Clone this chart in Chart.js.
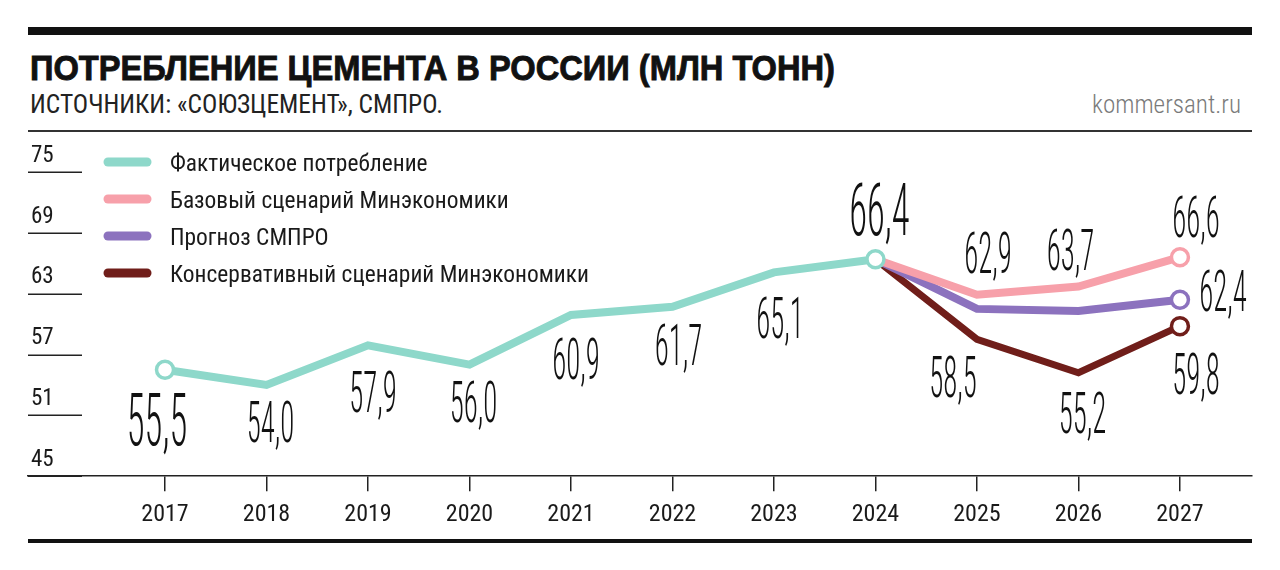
<!DOCTYPE html>
<html><head><meta charset="utf-8">
<script src="https://cdn.jsdelivr.net/npm/chart.js@4.4.1/dist/chart.umd.min.js"></script>
<style>
html,body{margin:0;padding:0;background:#fff;}
#wrap{position:relative;width:1280px;height:570px;overflow:hidden;background:#fff;}
#c{position:absolute;left:0;top:0;}
.rule{position:absolute;background:#111;}
.txt{position:absolute;white-space:nowrap;transform-origin:0 0;line-height:1;}
#title{left:30px;top:50px;font-family:"Liberation Sans",Arial,sans-serif;font-weight:bold;font-size:35px;color:#111;-webkit-text-stroke:0.9px #111;}
#sub{left:30px;top:92px;font-family:"Roboto Condensed","Liberation Sans",Arial,sans-serif;font-weight:400;font-size:25px;color:#222;}
#src{top:91px;font-family:"Roboto Condensed","Liberation Sans",Arial,sans-serif;font-weight:300;font-size:26px;color:#7a7a7a;}
</style></head>
<body><div id="wrap">
<div class="rule" style="left:28px;top:27px;width:1224px;height:8px"></div>
<div class="rule" style="left:28px;top:130px;width:1224px;height:1.5px;background:#333"></div>
<div class="rule" style="left:28px;top:539px;width:1224px;height:4px"></div>
<div id="title" class="txt">ПОТРЕБЛЕНИЕ ЦЕМЕНТА В РОССИИ (МЛН ТОНН)</div>
<div id="sub" class="txt">ИСТОЧНИКИ: «СОЮЗЦЕМЕНТ», СМПРО.</div>
<div id="src" class="txt">kommersant.ru</div>
<canvas id="c" width="1280" height="570"></canvas>
</div>
<script>
// ---------- data ----------
const years = ['2017','2018','2019','2020','2021','2022','2023','2024','2025','2026','2027'];
const actual        = [55.5, 54.0, 57.9, 56.0, 60.9, 61.7, 65.1, 66.4, null, null, null];
const baseScenario  = [null, null, null, null, null, null, null, 66.4, 62.9, 63.7, 66.6];
const smproForecast = [null, null, null, null, null, null, null, 66.4, 61.5, 61.3, 62.4];
const conservative  = [null, null, null, null, null, null, null, 66.4, 58.5, 55.2, 59.8];
const yTicks = [45, 51, 57, 63, 69, 75];
const seriesNames = ['Фактическое потребление', 'Базовый сценарий Минэкономики', 'Прогноз СМПРО', 'Консервативный сценарий Минэкономики'];

// ---------- styling / layout ----------
const COLORS = ['#8ed8ca', '#f7a0aa', '#8c72be', '#701e1a'];
const N = null;
// label placement relative to point: [dx, dy(center), large?]
const labelPlace = [
  [[-8,49,1],[4,37],[5,46],[4,37],[5,44],[6,38],[6,45],[4,-50,1],N,N,N],
  [N,N,N,N,N,N,N,N,[11,-42],[-8,-37],[16,-41]],
  [N,N,N,N,N,N,N,N,N,N,[43,-9]],
  [N,N,N,N,N,N,N,N,[-24,37],[4,40],[16,47]]
];
const markerIdx = [[0,7],[10],[10],[10]];

const COND = '"Roboto Condensed", "Liberation Sans", sans-serif';
const COND_NAME = 'Roboto Condensed';

// fit HTML texts to reference widths
function fitW(id, w){ const el = document.getElementById(id); const r = el.getBoundingClientRect().width; el.style.transform = 'scaleX(' + (w / r) + ')'; return el; }
fitW('title', 805);
fitW('sub', 413);
const src = fitW('src', 149); src.style.left = (1241 - 149) + 'px';

function drawScaled(ctx, text, x, y, font, sx, align, color){
  ctx.save();
  ctx.font = font;
  ctx.textBaseline = 'alphabetic';
  ctx.textAlign = 'left';
  const w = ctx.measureText(text).width * sx;
  const x0 = align === 'center' ? x - w / 2 : (align === 'right' ? x - w : x);
  ctx.translate(x0, y);
  ctx.scale(sx, 1);
  ctx.fillStyle = color || '#111';
  ctx.fillText(text, 0, 0);
  ctx.restore();
}
function fmt(v){ return v.toFixed(1).replace('.', ','); }

const series = [actual, baseScenario, smproForecast, conservative];

const decor = {
  id: 'decor',
  beforeDatasetsDraw(chart){
    const ctx = chart.ctx, ys = chart.scales.y, a = chart.chartArea;
    ctx.save();
    ctx.strokeStyle = '#222'; ctx.lineWidth = 1.5;
    ys.ticks.forEach(t => {
      const py = Math.round(ys.getPixelForValue(t.value)) + 0.25;
      ctx.beginPath(); ctx.moveTo(a.left, py); ctx.lineTo(a.left + 54, py); ctx.stroke();
    });
    ctx.restore();
  },
  afterDatasetsDraw(chart){
    const ctx = chart.ctx;
    // value labels
    ctx.save();
    series.forEach((arr, di) => {
      const meta = chart.getDatasetMeta(di);
      arr.forEach((v, i) => {
        const p = labelPlace[di][i];
        if (v == null || !p) return;
        const pt = meta.data[i];
        const H = p[2] ? 52 : 41;
        const size = H / 0.711;
        const font = '300 ' + size + 'px ' + COND;
        ctx.font = font;
        const sx = (1.16 * H) / ctx.measureText('00,0').width;
        drawScaled(ctx, fmt(v), pt.x + p[0], pt.y + p[1] + H / 2, font, sx, 'center', '#111');
      });
    });
    ctx.restore();
    // legend
    ctx.save();
    const lfont = '23px ' + COND;
    ctx.font = lfont;
    const lsx = 419 / ctx.measureText(seriesNames[3]).width;
    const rows = [162, 199, 236, 273];
    seriesNames.forEach((name, k) => {
      ctx.strokeStyle = COLORS[k]; ctx.lineWidth = 9; ctx.lineCap = 'round';
      ctx.beginPath(); ctx.moveTo(108, rows[k]); ctx.lineTo(147, rows[k]); ctx.stroke();
      drawScaled(ctx, name, 170, rows[k] + 8.5, lfont, lsx, 'left', '#1a1a1a');
    });
    ctx.restore();
  }
};

const datasets = series.map((arr, di) => ({
  label: seriesNames[di],
  data: arr.map((v, i) => ({x: i, y: v})),
  borderColor: COLORS[di],
  backgroundColor: COLORS[di],
  borderWidth: di === 3 ? 7 : 8,
  borderJoinStyle: 'miter',
  borderCapStyle: 'round',
  tension: 0,
  fill: false,
  spanGaps: false,
  order: di,
  pointRadius: (c) => markerIdx[di].includes(c.dataIndex) ? 8.5 : 0,
  pointHoverRadius: (c) => markerIdx[di].includes(c.dataIndex) ? 8.5 : 0,
  pointBackgroundColor: '#ffffff',
  pointBorderColor: COLORS[di],
  pointBorderWidth: 3.5,
  pointHitRadius: 0
}));

new Chart(document.getElementById('c'), {
  type: 'line',
  data: { datasets },
  options: {
    responsive: false,
    animation: false,
    devicePixelRatio: 1,
    layout: { padding: { left: 28, right: 28, top: 172, bottom: 32 } },
    plugins: { legend: { display: false }, tooltip: { enabled: false }, title: { display: false } },
    scales: {
      x: {
        type: 'linear',
        min: -1.35, max: 10.71,
        afterBuildTicks: (s) => { s.ticks = years.map((_, i) => ({ value: i })); },
        afterFit: (s) => { s.paddingLeft = 0; s.paddingRight = 0; },
        ticks: {
          autoSkip: false, maxRotation: 0, padding: 9,
          callback: (v) => years[v] ?? '',
          font: { family: COND_NAME, size: 24 },
          color: '#1a1a1a'
        },
        grid: { display: true, drawOnChartArea: false, drawTicks: true, tickLength: 15, color: '#222', lineWidth: 1.5 },
        border: { display: true, color: '#222', width: 1.5 }
      },
      y: {
        type: 'linear',
        min: 45, max: 75,
        afterBuildTicks: (s) => { s.ticks = yTicks.map(v => ({ value: v })); },
        afterFit: (s) => { s.width = 0; s.paddingTop = 0; s.paddingBottom = 0; },
        ticks: {
          mirror: true, padding: 3, labelOffset: -16,
          font: { family: COND_NAME, size: 23 },
          color: '#1a1a1a'
        },
        grid: { display: false, drawTicks: false },
        border: { display: false }
      }
    }
  },
  plugins: [decor]
});
</script>
</body></html>
